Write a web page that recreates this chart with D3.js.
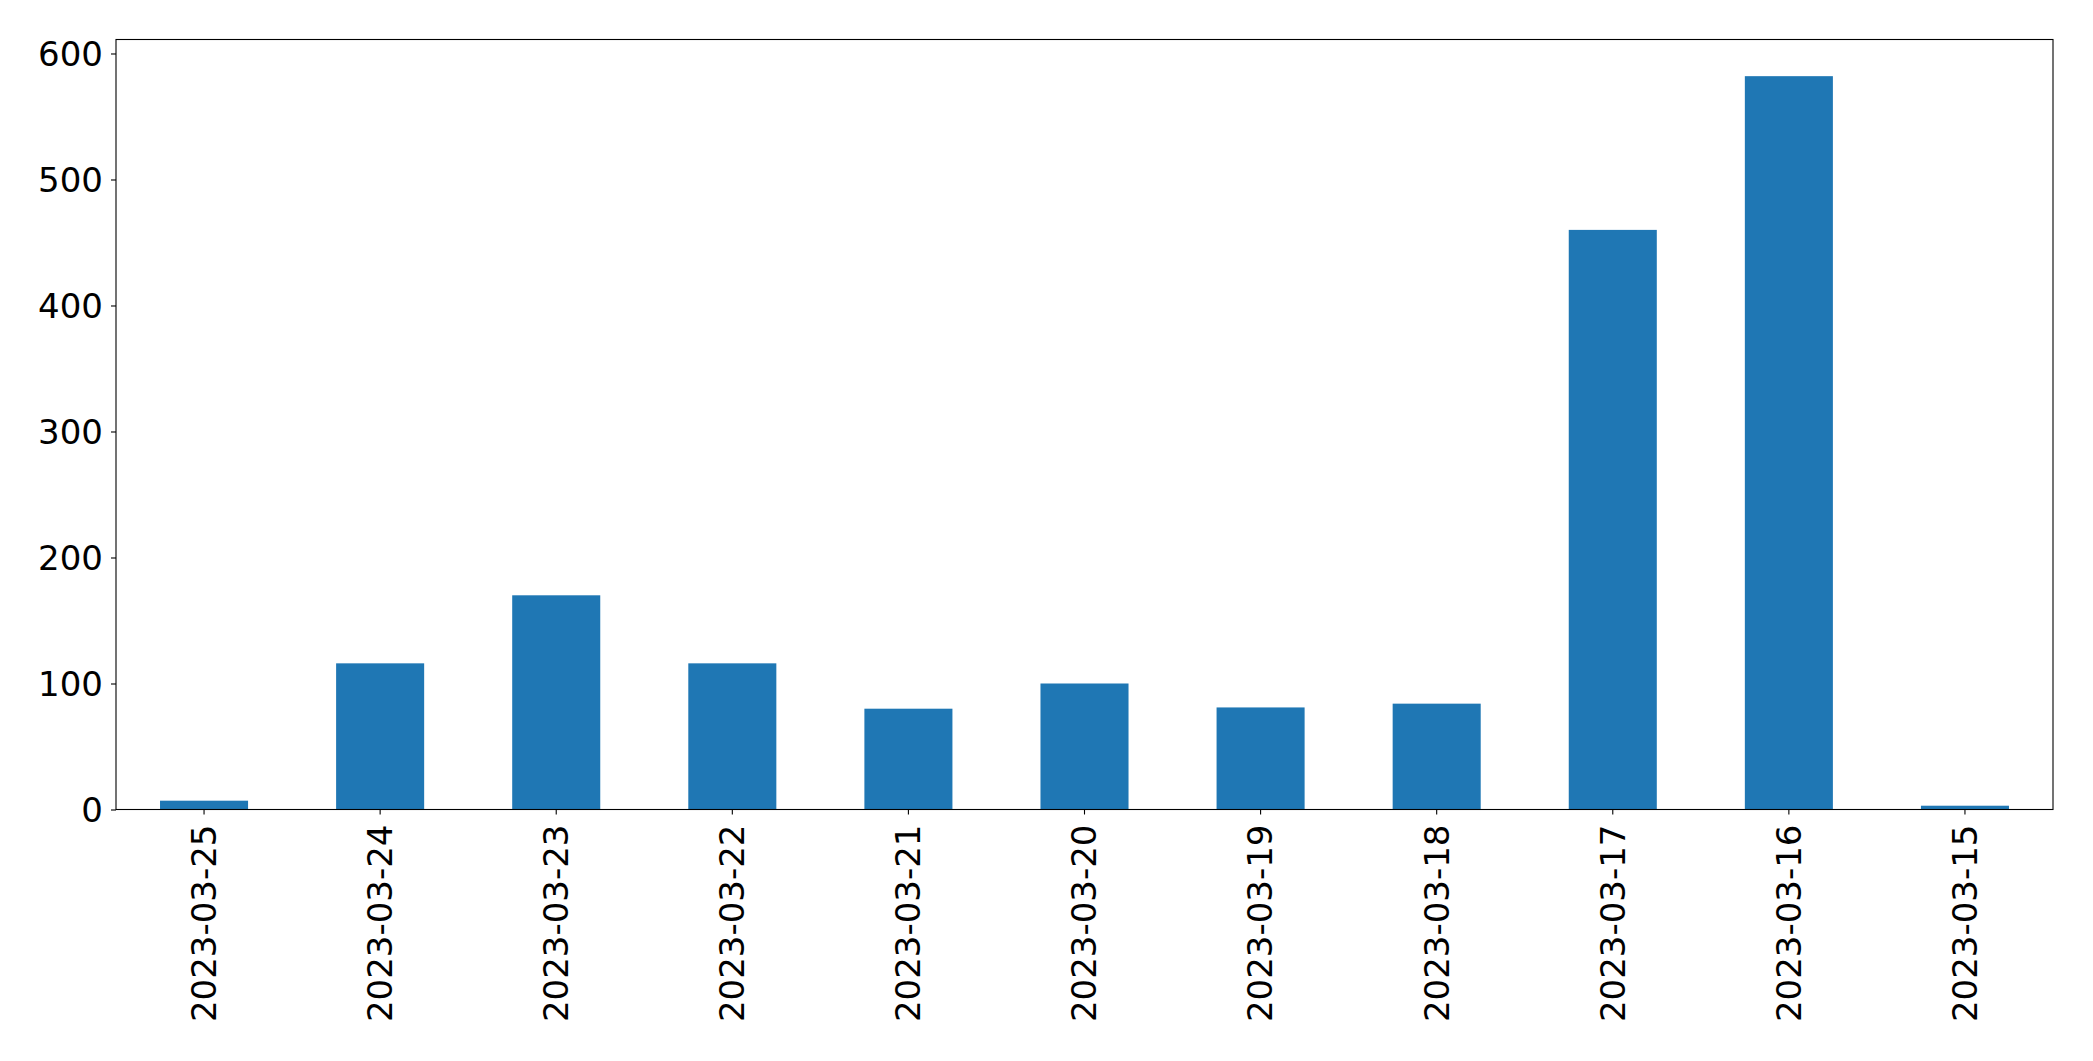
<!DOCTYPE html>
<html lang="en">
<head>
    <meta charset="UTF-8">
    <title>Daily counts</title>
    <script src="https://d3js.org/d3.v7.min.js"></script>
</head>
<style>
    body { margin: 0; background: #fff; }
    .xAxis path, .yAxis path { stroke-width: 0; }
    .xAxis line, .yAxis line { stroke: #000; stroke-width: 1.1px; }
    .xAxis text, .yAxis text {
        fill: #000;
        font-family: "DejaVu Sans", sans-serif;
        font-size: 34px;
    }
</style>
<body>
    <div id="chart"></div>
</body>
<script>
    // data
    const dates = ["2023-03-25", "2023-03-24", "2023-03-23", "2023-03-22", "2023-03-21",
        "2023-03-20", "2023-03-19", "2023-03-18", "2023-03-17", "2023-03-16", "2023-03-15"];
    const counts = [7, 116, 170, 116, 80, 100, 81, 84, 460, 582, 3];
    const yTicks = [0, 100, 200, 300, 400, 500, 600];

    const W = 2093, H = 1061;
    const margin = { top: 39.5, right: 40, bottom: 251.5, left: 116 },
        width = W - margin.left - margin.right,
        height = H - margin.top - margin.bottom;

    const svg = d3.select("#chart")
        .append("svg")
        .attr("width", W)
        .attr("height", H)
        .append("g")
        .attr("transform", `translate(${margin.left}, ${margin.top})`);

    const data = dates.map((d, i) => ({ key: d, value: counts[i] }));

    // x: category band, bars half as wide as the step
    const x = d3.scaleBand()
        .domain(dates)
        .range([0, width])
        .paddingInner(0.5)
        .paddingOuter(0.25);

    // y: matplotlib style 5% headroom
    const y = d3.scaleLinear()
        .domain([0, d3.max(counts) * 1.05])
        .range([height, 0]);

    svg.selectAll("rect.bar")
        .data(data)
        .enter()
        .append("rect")
        .attr("class", "bar")
        .attr("x", d => x(d.key))
        .attr("y", d => y(d.value))
        .attr("width", x.bandwidth())
        .attr("height", d => height - y(d.value))
        .attr("fill", "#1f77b4");

    // Y axis
    svg.append("g")
        .attr("class", "yAxis")
        .call(d3.axisLeft(y).tickValues(yTicks).tickSize(5).tickPadding(8).tickSizeOuter(0))
        .selectAll("text")
        .attr("dy", "0.35em");

    // X axis with rotated labels
    const xg = svg.append("g")
        .attr("class", "xAxis")
        .attr("transform", `translate(0, ${height})`)
        .call(d3.axisBottom(x).tickSize(5).tickSizeOuter(0));
    xg.selectAll("text")
        .attr("transform", "rotate(-90)")
        .attr("x", -15)
        .attr("y", 0)
        .attr("dy", "0.35em")
        .style("text-anchor", "end");

    // frame
    svg.append("rect")
        .attr("x", 0)
        .attr("y", 0)
        .attr("width", width)
        .attr("height", height)
        .attr("fill", "none")
        .attr("stroke", "#000")
        .attr("stroke-width", 1.1);
</script>
</html>
